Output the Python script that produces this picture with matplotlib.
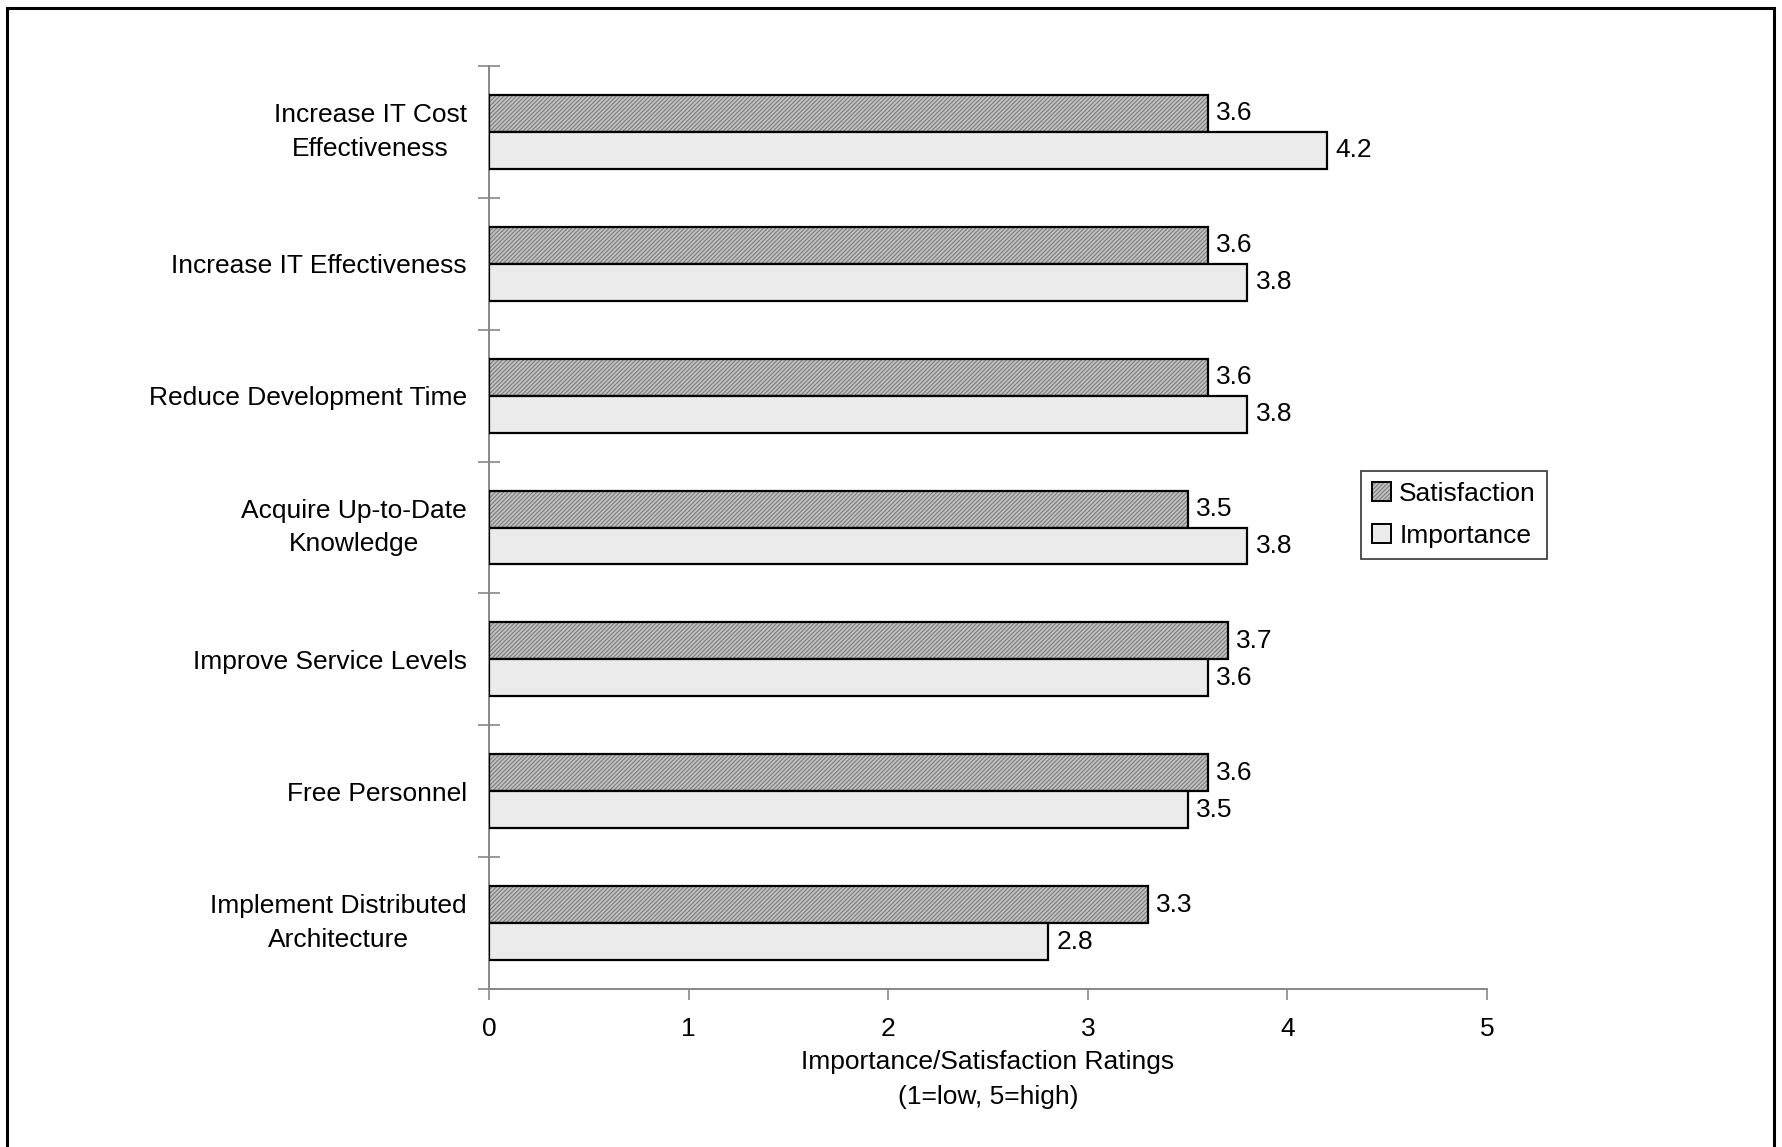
import matplotlib
matplotlib.use("Agg")
import matplotlib.pyplot as plt
from matplotlib.patches import Patch, Rectangle
from matplotlib.legend_handler import HandlerTuple
import numpy as np

plt.rcParams['font.family'] = ['Liberation Sans', 'DejaVu Sans']
plt.rcParams['hatch.linewidth'] = 0.8

categories = [
    "Increase IT Cost\nEffectiveness",
    "Increase IT Effectiveness",
    "Reduce Development Time",
    "Acquire Up-to-Date\nKnowledge",
    "Improve Service Levels",
    "Free Personnel",
    "Implement Distributed\nArchitecture",
]
satisfaction = [3.6, 3.6, 3.6, 3.5, 3.7, 3.6, 3.3]
importance = [4.2, 3.8, 3.8, 3.8, 3.6, 3.5, 2.8]
xticks = [0, 1, 2, 3, 4, 5]
series_names = ["Satisfaction", "Importance"]

W, H = 1783, 1147
fig = plt.figure(figsize=(W / 100, H / 100), dpi=100)
fig.patch.set_facecolor('white')

ax_l, ax_r = 489, 1487
ax_t, ax_b = 66, 989
ax = fig.add_axes([ax_l / W, 1 - ax_b / H, (ax_r - ax_l) / W, (ax_b - ax_t) / H])

n = len(categories)
centers = n - 0.5 - np.arange(n)
bh = 0.28

sat_face = '#c2c2c2'
sat_hatch = '#7c7c7c'
sat_pat = '////////'
imp_face = '#ebebeb'

ax.barh(centers + bh / 2, satisfaction, height=bh, color=sat_face,
        edgecolor=sat_hatch, hatch=sat_pat, linewidth=0, zorder=2)
ax.barh(centers + bh / 2, satisfaction, height=bh, fill=False,
        edgecolor='black', linewidth=1.6, zorder=3)
ax.barh(centers - bh / 2, importance, height=bh, color=imp_face,
        edgecolor='black', linewidth=1.6, zorder=3)

fs = 19
for c, s, i in zip(centers, satisfaction, importance):
    ax.annotate(f"{s:.1f}", (s, c + bh / 2), xytext=(6, 0), textcoords='offset points',
                va='center', ha='left', fontsize=fs)
    ax.annotate(f"{i:.1f}", (i, c - bh / 2), xytext=(6, 0), textcoords='offset points',
                va='center', ha='left', fontsize=fs)

ax.set_xlim(0, 5)
ax.set_ylim(0, n)
ax.set_xticks(xticks)
ax.set_xticklabels([str(t) for t in xticks], fontsize=fs)
ax.set_yticks(np.arange(n + 1))
ax.set_yticklabels([])
ax.set_yticks(centers, minor=True)
ylabels = ax.set_yticklabels(categories, minor=True, fontsize=fs, multialignment='center',
                             linespacing=1.5)
for t in ylabels:
    if "\n" in t.get_text():
        t.set_verticalalignment('center')
ax.tick_params(axis='y', which='minor', length=0, pad=16)
ax.tick_params(axis='y', which='major', direction='inout', length=16, width=1.2, color='#888888')
ax.tick_params(axis='x', direction='out', length=8, width=1.2, color='#888888', pad=12)

for side in ['top', 'right']:
    ax.spines[side].set_visible(False)
for side in ['left', 'bottom']:
    ax.spines[side].set_color('#888888')
    ax.spines[side].set_linewidth(1.4)

ax.set_xlabel("Importance/Satisfaction Ratings\n(1=low, 5=high)", fontsize=fs,
              labelpad=7, linespacing=1.55)
ax.set_facecolor('none')

h_sat = (Patch(facecolor=sat_face, edgecolor=sat_hatch, hatch=sat_pat, linewidth=0),
         Patch(fill=False, edgecolor='black', linewidth=1.4))
h_imp = Patch(facecolor=imp_face, edgecolor='black', linewidth=1.4)
leg = fig.legend([h_sat, h_imp], series_names, loc='upper left',
                 bbox_to_anchor=(1361 / W, 1 - 471 / H), fontsize=fs,
                 handler_map={tuple: HandlerTuple(ndivide=1, pad=0)},
                 handlelength=0.75, handleheight=0.75, handletextpad=0.3,
                 fancybox=False, framealpha=1, edgecolor='#333333',
                 borderpad=0.4, labelspacing=0.7, borderaxespad=0)
leg.get_frame().set_linewidth(1.2)

fig.patches.append(Rectangle((7 / W, -0.02), (1774 - 7) / W, 1 - 8 / H + 0.02,
                             transform=fig.transFigure, fill=False,
                             edgecolor='black', linewidth=2.2))

fig.savefig("out.png", dpi=100)
